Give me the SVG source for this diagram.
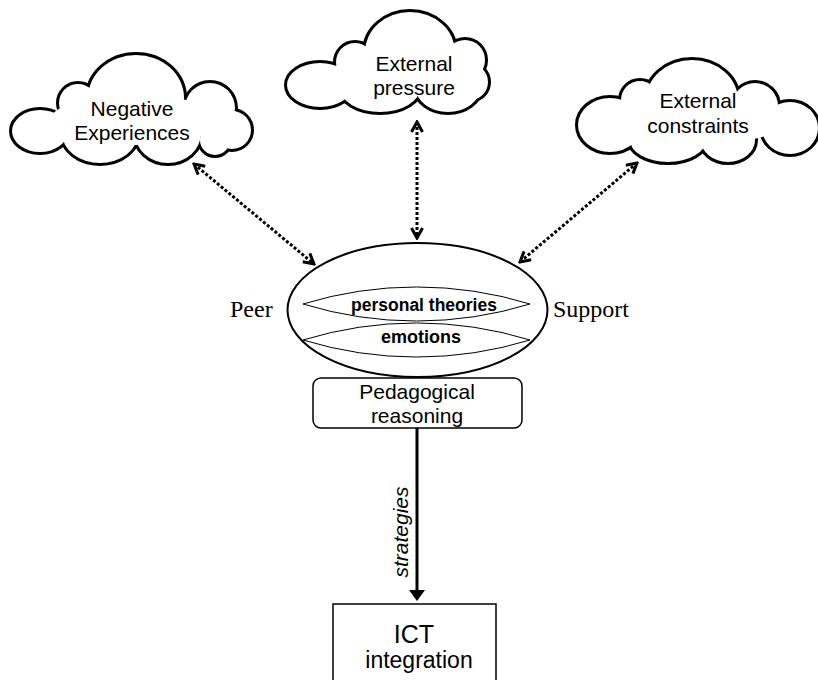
<svg xmlns="http://www.w3.org/2000/svg" width="818" height="680" viewBox="0 0 818 680">
<style>
.t{font-family:"Liberation Sans",Arial,sans-serif;fill:#000;text-anchor:middle}
.s{font-family:"Liberation Serif","Times New Roman",serif;fill:#000}
.dot{fill:none;stroke:#000;stroke-width:3;stroke-dasharray:3 2}
.out{fill:none;stroke:#000;stroke-width:6}
.in{fill:#fff;stroke:none}
</style>
<defs>
<marker id="chev" viewBox="0 0 14 14" refX="12" refY="7" markerWidth="14" markerHeight="14" markerUnits="userSpaceOnUse" orient="auto-start-reverse">
<path d="M2,1.5 L12,7 L2,12.5" fill="none" stroke="#000" stroke-width="3"/>
</marker>
<g id="c1">
<ellipse cx="40" cy="131" rx="28" ry="21"/>
<circle cx="78" cy="103" r="19"/>
<ellipse cx="136" cy="98" rx="48" ry="43"/>
<circle cx="210" cy="108" r="25"/>
<circle cx="232" cy="130" r="19"/>
<circle cx="215" cy="140" r="15"/>
<ellipse cx="168" cy="133" rx="33" ry="30"/>
<ellipse cx="100" cy="133" rx="38" ry="30"/>
</g>
<g id="c2">
<ellipse cx="320" cy="85" rx="33" ry="22"/>
<circle cx="355" cy="62" r="19"/>
<ellipse cx="410" cy="52" rx="45" ry="40"/>
<circle cx="465" cy="60" r="20"/>
<circle cx="470" cy="82" r="18"/>
<ellipse cx="448" cy="88" rx="32" ry="24"/>
<ellipse cx="380" cy="88" rx="40" ry="24"/>
</g>
<g id="c3">
<ellipse cx="610" cy="125" rx="32" ry="27"/>
<circle cx="640" cy="100" r="19"/>
<ellipse cx="692" cy="100" rx="46" ry="40"/>
<circle cx="755" cy="106" r="23"/>
<ellipse cx="790" cy="128" rx="28" ry="26"/>
<ellipse cx="728" cy="140" rx="27" ry="22"/>
<ellipse cx="668" cy="140" rx="38" ry="22"/>
</g>
</defs>
<rect width="818" height="680" fill="#fff"/>
<g id="negative-experiences">
<use href="#c1" class="out"/>
<use href="#c1" class="in"/>
<ellipse cx="135" cy="120" rx="85" ry="25" fill="#fff"/>
<text class="t" x="132" y="116" font-size="21">Negative</text>
<text class="t" x="132" y="140" font-size="21">Experiences</text>
</g>
<g id="external-pressure">
<use href="#c2" class="out"/>
<use href="#c2" class="in"/>
<ellipse cx="400" cy="75" rx="75" ry="18" fill="#fff"/>
<text class="t" x="414" y="71" font-size="21">External</text>
<text class="t" x="414" y="95" font-size="21">pressure</text>
</g>
<g id="external-constraints">
<use href="#c3" class="out"/>
<use href="#c3" class="in"/>
<ellipse cx="700" cy="122" rx="85" ry="22" fill="#fff"/>
<text class="t" x="698" y="108" font-size="21">External</text>
<text class="t" x="698" y="133" font-size="21">constraints</text>
</g>
<g id="core">
<ellipse cx="417.5" cy="310" rx="130" ry="67" fill="#fff" stroke="#000" stroke-width="2"/>
<path d="M303,304 A387 387 0 0 1 530,304 A387 387 0 0 1 303,304 Z" fill="#fff" stroke="#000" stroke-width="1"/>
<path d="M303,340 A387 387 0 0 1 530,340 A387 387 0 0 1 303,340 Z" fill="#fff" stroke="#000" stroke-width="1"/>
<text class="t" x="424" y="311" font-size="17.5" font-weight="bold">personal theories</text>
<text class="t" x="421" y="343" font-size="18" font-weight="bold">emotions</text>
</g>
<g id="peer"><text class="s" x="230" y="317" font-size="24">Peer</text></g>
<g id="support"><text class="s" x="553" y="317" font-size="24">Support</text></g>
<g id="pedagogical-reasoning">
<rect x="313" y="378" width="209" height="50" rx="8" fill="#fff" stroke="#000" stroke-width="1.5"/>
<text class="t" x="417" y="399" font-size="21">Pedagogical</text>
<text class="t" x="417" y="423" font-size="21">reasoning</text>
</g>
<g id="ict-integration">
<rect x="333" y="604" width="163" height="90" fill="#fff" stroke="#000" stroke-width="1.5"/>
<text class="t" x="414" y="643" font-size="25">ICT</text>
<text class="t" x="419" y="668" font-size="23">integration</text>
</g>
<g id="connectors">
<line class="dot" x1="194" y1="164" x2="314" y2="264" marker-start="url(#chev)" marker-end="url(#chev)"/>
<line class="dot" x1="417" y1="122" x2="417" y2="238" marker-start="url(#chev)" marker-end="url(#chev)"/>
<line class="dot" x1="637" y1="163" x2="520" y2="262" marker-start="url(#chev)" marker-end="url(#chev)"/>
<line x1="417" y1="428" x2="417" y2="592" stroke="#000" stroke-width="3"/>
<path d="M417,601 L409,590 L425,590 Z" fill="#000"/>
<text class="t" font-size="21" font-style="italic" transform="translate(408,532) rotate(-90)">strategies</text>
</g>
</svg>
